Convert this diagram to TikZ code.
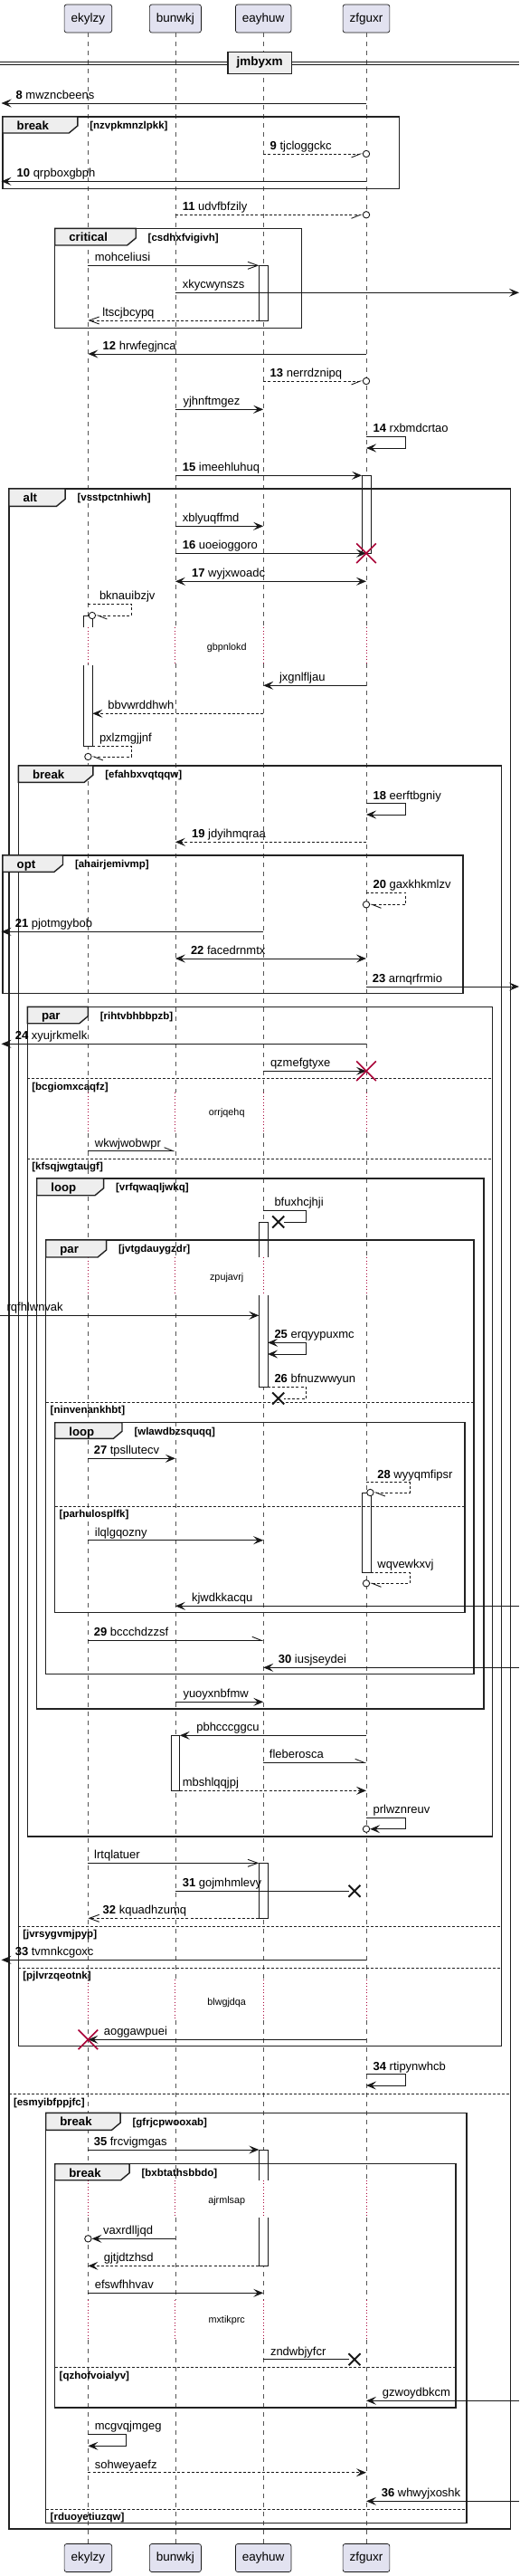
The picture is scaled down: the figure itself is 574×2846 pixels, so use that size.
\documentclass[tikz,border=0pt]{standalone}
\usepackage{fontspec}
\setmainfont{Liberation Sans}
\usetikzlibrary{arrows.meta,shapes.misc}
\definecolor{partc}{HTML}{E2E2F0}
\definecolor{edgec}{HTML}{181818}
\definecolor{lifec}{HTML}{555555}
\definecolor{redc}{HTML}{A80036}
\definecolor{tabc}{HTML}{EEEEEE}
\definecolor{framec}{HTML}{222222}
\newcommand\fmsg{\fontsize{13}{15}\selectfont}
\newcommand\fpart{\fontsize{13.5}{16}\selectfont}
\newcommand\fguard{\bfseries\fontsize{11.5}{14}\selectfont}
\newcommand\ftab{\bfseries\fontsize{13.2}{16}\selectfont}
\newcommand\fdelay{\fontsize{10.8}{13}\selectfont}
\newcommand\actC[3]{\filldraw[actb] ({#1-4.9},#2) rectangle ({#1+4.9},#3);}
\newcommand\actOB[3]{\fill[white] ({#1-4.9},#2) rectangle ({#1+4.9},#3);
  \draw[actl] ({#1-4.9},#3) -- ({#1-4.9},#2) -- ({#1+4.9},#2) -- ({#1+4.9},#3);}
\newcommand\actOT[3]{\fill[white] ({#1-4.9},#2) rectangle ({#1+4.9},#3);
  \draw[actl] ({#1-4.9},#2) -- ({#1-4.9},#3) -- ({#1+4.9},#3) -- ({#1+4.9},#2);}
\newcommand\myframe[9]{%
  \draw[frl] (#1,#2) rectangle (#3,#4);
  \filldraw[tabs] (#1,#2) -- (#5,#2) -- (#5,{#6-8}) -- ({#5-9.6},#6) -- (#1,#6) -- cycle;
  \node[tlbl] (#7a) at ({#1+15.5},{#2+14.3}) {#8};
  \node[glbl] (#7b) at ({#5+13.3},{#2+13.7}) {#9};}
\newcommand\myelse[5]{%
  \draw[elsel] (#1,#3) -- (#2,#3);
  \node[glbl] (#4) at ({#1+4.8},{#3+12.6}) {#5};}
\begin{document}
\begin{tikzpicture}[x=1pt,y=-1pt,
  pbox/.style={draw=edgec, fill=partc, rounded corners=2.5pt, line width=0.7pt, minimum height=31pt, inner xsep=7.5pt, inner ysep=0pt, text height=10pt, text depth=3pt, font=\fpart},
  life/.style={draw=lifec, line width=0.7pt, dash pattern=on 5pt off 5pt},
  dly/.style={draw=redc, line width=0.9pt, dash pattern=on 1pt off 2.5pt},
  actb/.style={draw=edgec, fill=white, line width=0.8pt},
  actl/.style={draw=edgec, line width=0.8pt},
  frl/.style={draw=framec, line width=1.4pt},
  tabs/.style={draw=framec, fill=tabc, line width=1.4pt},
  elsel/.style={draw=framec, line width=0.8pt, dash pattern=on 3pt off 2pt},
  lbl/.style={anchor=base west, inner sep=0pt, font=\fmsg},
  glbl/.style={anchor=base west, inner sep=0pt, font=\fguard},
  tlbl/.style={anchor=base west, inner sep=0pt, font=\ftab},
  dlbl/.style={anchor=base, inner sep=0pt, font=\fdelay},
  pline/.style={draw=edgec, line width=0.9pt},
  dsh/.style={dash pattern=on 3pt off 2.2pt},
  msg/.style={pline, -{Stealth[length=11pt,width=9pt,inset=4.5pt]}},
  retm/.style={msg, dsh},
  bidir/.style={pline, {Stealth[length=11pt,width=9pt,inset=4.5pt]}-{Stealth[length=11pt,width=9pt,inset=4.5pt]}},
  omsg/.style={pline, -{Straight Barb[length=11pt,width=8pt]}},
  oret/.style={omsg, dsh},
  hsolid/.style={pline, -{Straight Barb[harpoon,length=10pt,width=8pt]}},
  hdash/.style={hsolid, dsh},
  hdashs/.style={pline, dsh, -{Straight Barb[harpoon,swap,length=10pt,width=8pt]}},
  cend/.style={circle, draw=edgec, fill=white, line width=0.9pt, minimum size=7.4pt, inner sep=0pt},
  xmark/.style={cross out, draw=edgec, line width=2pt, minimum size=11pt, inner sep=0pt},
  redx/.style={cross out, draw=redc, line width=1.6pt, minimum size=20pt, inner sep=0pt}
]
\useasboundingbox (0,0) rectangle (574,2846);
% participants
\node[pbox] (pE) at (97.4,20.5) {ekylzy};
\node[pbox] (pB) at (193.9,20.5) {bunwkj};
\node[pbox] (pA) at (291.2,20.5) {eayhuw};
\node[pbox] (pZ) at (405,20.5) {zfguxr};
\node[pbox] (qE) at (97.4,2826) {ekylzy};
\node[pbox] (qB) at (193.9,2826) {bunwkj};
\node[pbox] (qA) at (291.2,2826) {eayhuw};
\node[pbox] (qZ) at (405,2826) {zfguxr};
\coordinate (Lft) at (1.5,0);
\coordinate (Lft0) at (0,0);
\coordinate (Rgt) at (574,0);
% lifelines
\foreach \p in {pE,pB,pA,pZ}{
  \foreach \a/\b in {36/693.3,733.3/1207,1252/1389,1430.7/2187,2232/2408.7,2450/2541,2585/2810.3}
    \draw[life] (\p |- 0,\a) -- (\p |- 0,\b);
  \foreach \a/\b in {693.3/733.3,1207/1252,1389/1430.7,2187/2232,2408.7/2450,2541/2585}
    \draw[dly] (\p |- 0,\a) -- (\p |- 0,\b);
}
% activations
\actC{291.2}{293.3}{354}
\actC{405}{525.3}{611.3}
\actOB{97.4}{680}{693.3}
\actOT{97.4}{735}{824}
\actOB{291.2}{1350}{1389}
\actOT{291.2}{1430.7}{1532.7}
\actC{405}{1649}{1737.3}
\actC{193.9}{1917.3}{1978.3}
\actC{291.2}{2058.3}{2119.3}
\actOB{291.2}{2375}{2408.7}
\actOT{291.2}{2450}{2503.3}
% separator
\draw[pline, line width=1pt] (0,68.3) -- (574,68.3);
\draw[pline, line width=1pt] (0,71.7) -- (574,71.7);
\node[draw=framec, fill=tabc, line width=1.4pt, minimum width=70.6pt, minimum height=24.4pt, inner sep=0pt, font=\bfseries\fontsize{13.5}{16}\selectfont] (sep) at (287.2,69.5) {jmbyxm};
% frames
\myframe{3}{129}{441.2}{208.7}{85.8}{147}{f1}{break}{[nzvpkmnzlpkk]}
\myframe{60.7}{252.3}{333.2}{362.3}{150.2}{271}{f2}{critical}{[csdhxfvigivh]}
\myframe{10}{540}{564.7}{2794}{72.1}{559.3}{f3}{alt}{[vsstpctnhiwh]}
\myframe{20.3}{846}{554.7}{2260.7}{102.8}{864.3}{f4}{break}{[efahbxvqtqqw]}
\myframe{3}{945}{511.8}{1097.7}{69.5}{963.3}{f5}{opt}{[ahairjemivmp]}
\myframe{30.3}{1112.3}{544.4}{2029}{97.3}{1130.7}{f6}{par}{[rihtvbhbbpzb]}
\myframe{40.7}{1302}{534.8}{1888}{114.6}{1320.7}{f7}{loop}{[vrfqwaqljwkq]}
\myframe{50.7}{1370}{524}{1849.7}{117.6}{1389}{f8}{par}{[jvtgdauygzdr]}
\myframe{60.7}{1571.7}{514.1}{1781.7}{135}{1589.3}{f9}{loop}{[wlawdbzsquqq]}
\myframe{50.7}{2334.3}{515.9}{2787.3}{133.1}{2353.3}{f10}{break}{[gfrjcpwooxab]}
\myframe{60.7}{2390.7}{504.1}{2660}{143.1}{2408.7}{f11}{break}{[bxbtathsbbdo]}
\myelse{30.3}{544.4}{1191.7}{e1}{[bcgiomxcaqfz]}
\myelse{30.3}{544.4}{1280.3}{e2}{[kfsqjwgtaugf]}
\myelse{50.7}{524}{1549.3}{e3}{[ninvenankhbt]}
\myelse{60.7}{514.1}{1664.3}{e4}{[parhulosplfk]}
\myelse{20.3}{554.7}{2128.3}{e5}{[jvrsygvmjpyp]}
\myelse{20.3}{554.7}{2174.3}{e6}{[pjlvrzqeotnk]}
\myelse{10}{564.7}{2313.7}{e7}{[esmyibfppjfc]}
\myelse{60.7}{504.1}{2615.7}{e8}{[qzhofvoialyv]}
\myelse{50.7}{515.9}{2772.3}{e9}{[rduoyetiuzqw]}
% delays
\node[dlbl] (d1) at (250.7,718.5) {gbpnlokd};
\node[dlbl] (d2) at (250.7,1232.8) {orrjqehq};
\node[dlbl] (d3) at (250.7,1414.5) {zpujavrj};
\node[dlbl] (d4) at (250.7,2215.2) {blwgjdqa};
\node[dlbl] (d5) at (250.7,2434.2) {ajrmlsap};
\node[dlbl] (d6) at (250.7,2566.8) {mxtikprc};
% messages
\draw[msg] (pZ |- 0,114) -- (Lft |- 0,114);
\node[lbl] (t8) at (17.4,109.3) {\textbf{8} mwzncbeens};
\node[cend] (c9) at (pZ |- 0,170) {};
\draw[hdashs] (pA |- 0,170) -- (c9);
\node[lbl] (t9) at (298.5,165.3) {\textbf{9} tjcloggckc};
\draw[msg] (pZ |- 0,200.3) -- (Lft |- 0,200.3);
\node[lbl] (t10) at (18.5,195.6) {\textbf{10} qrpboxgbph};
\node[cend] (c11) at (pZ |- 0,237.3) {};
\draw[hdashs] (pB |- 0,237.3) -- (c11);
\node[lbl] (t11) at (201.6,232.6) {\textbf{11} udvfbfzily};
\draw[omsg, shorten >=4.9pt] (pE |- 0,293.3) -- (pA |- 0,293.3);
\node[lbl] (ta1) at (104.7,288.6) {mohceliusi};
\draw[msg] (pB |- 0,323.3) -- (Rgt |- 0,323.3);
\node[lbl] (ta2) at (201.6,318.6) {xkycwynszs};
\draw[oret, shorten <=4.9pt] (pA |- 0,354) -- (pE |- 0,354);
\node[lbl] (ta3) at (113.2,349.3) {ltscjbcypq};
\draw[msg] (pZ |- 0,391) -- (pE |- 0,391);
\node[lbl] (t12) at (113.5,386.3) {\textbf{12} hrwfegjnca};
\node[cend] (c13) at (pZ |- 0,421) {};
\draw[hdashs] (pA |- 0,421) -- (c13);
\node[lbl] (t13) at (298.5,416.3) {\textbf{13} nerrdznipq};
\draw[msg] (pB |- 0,452.3) -- (pA |- 0,452.3);
\node[lbl] (ta4) at (202.3,447.6) {yjhnftmgez};
\draw[msg] (pZ |- 0,482.3) -- (448.2,482.3) -- (448.2,495) -- (pZ |- 0,495);
\node[lbl] (t14) at (412.4,477.6) {\textbf{14} rxbmdcrtao};
\draw[msg, shorten >=4.9pt] (pB |- 0,525.3) -- (pZ |- 0,525.3);
\node[lbl] (t15) at (201.6,520.6) {\textbf{15} imeehluhuq};
\draw[msg] (pB |- 0,581.3) -- (pA |- 0,581.3);
\node[lbl] (ta5) at (201.6,576.6) {xblyuqffmd};
\draw[msg] (pB |- 0,611.3) -- (pZ |- 0,611.3);
\node[redx] (rx16) at (pZ |- 0,611.3) {};
\node[lbl] (t16) at (201.6,606.6) {\textbf{16} uoeioggoro};
\draw[bidir] (pB |- 0,642.3) -- (pZ |- 0,642.3);
\node[lbl] (t17) at (211.9,637.6) {\textbf{17} wyjxwoadc};
\node[cend] (cbk) at (101.9,680) {};
\draw[hdash] (pE |- 0,667) -- (145,667) -- (145,680) -- (cbk);
\node[lbl] (ta6) at (109.8,662.3) {bknauibzjv};
\draw[msg] (pZ |- 0,757.3) -- (pA |- 0,757.3);
\node[lbl] (ta7) at (308.8,752.6) {jxgnlfljau};
\draw[retm, shorten >=4.9pt] (pA |- 0,788.3) -- (pE |- 0,788.3);
\node[lbl] (ta8) at (119.1,783.6) {bbvwrddhwh};
\node[cend] (cpx) at (pE |- 0,836) {};
\draw[hdash, shorten <=4.9pt] (pE |- 0,824) -- (145,824) -- (145,836) -- (cpx);
\node[lbl] (ta9) at (109.8,819.3) {pxlzmgjjnf};
\draw[msg] (pZ |- 0,887.7) -- (448.2,887.7) -- (448.2,900) -- (pZ |- 0,900);
\node[lbl] (t18) at (412.4,883) {\textbf{18} eerftbgniy};
\draw[retm] (pZ |- 0,930.3) -- (pB |- 0,930.3);
\node[lbl] (t19) at (211.9,925.6) {\textbf{19} jdyihmqraa};
\node[cend] (c20) at (pZ |- 0,999.3) {};
\draw[hdash] (pZ |- 0,986) -- (448.2,986) -- (448.2,999.3) -- (c20);
\node[lbl] (t20) at (412.4,981.3) {\textbf{20} gaxkhkmlzv};
\draw[msg] (pA |- 0,1029.3) -- (Lft |- 0,1029.3);
\node[lbl] (t21) at (16.6,1024.6) {\textbf{21} pjotmgybob};
\draw[bidir] (pB |- 0,1059) -- (pZ |- 0,1059);
\node[lbl] (t22) at (210.8,1054.3) {\textbf{22} facedrnmtx};
\draw[msg] (pZ |- 0,1090) -- (Rgt |- 0,1090);
\node[lbl] (t23) at (411.6,1085.3) {\textbf{23} arnqrfrmio};
\draw[msg] (pZ |- 0,1153.3) -- (Lft |- 0,1153.3);
\node[lbl] (t24) at (16.6,1148.6) {\textbf{24} xyujrkmelk};
\draw[msg] (pA |- 0,1183.3) -- (pZ |- 0,1183.3);
\node[redx] (rx24) at (pZ |- 0,1183.3) {};
\node[lbl] (tb1) at (298.8,1178.6) {qzmefgtyxe};
\draw[hsolid] (pE |- 0,1271.7) -- (pB |- 0,1271.7);
\node[lbl] (tb2) at (104.7,1267) {wkwjwobwpr};
\node[xmark] (xb) at (307.7,1350) {};
\draw[pline] (pA |- 0,1337.3) -- (338.8,1337.3) -- (338.8,1350) -- (xb);
\node[lbl] (tb3) at (303.3,1332.6) {bfuxhcjhji};
\draw[msg, shorten >=4.9pt] (Lft0 |- 0,1453.3) -- (pA |- 0,1453.3);
\node[lbl] (tb4) at (7.4,1448.6) {rqfhlwnvak};
\draw[bidir, shorten <=4.9pt, shorten >=4.9pt] (pA |- 0,1483.3) -- (338.8,1483.3) -- (338.8,1496) -- (pA |- 0,1496);
\node[lbl] (t25) at (303.3,1478.6) {\textbf{25} erqyypuxmc};
\node[xmark] (x26) at (307.7,1545) {};
\draw[pline, dsh, shorten <=4.9pt] (pA |- 0,1532.7) -- (338.8,1532.7) -- (338.8,1545) -- (x26);
\node[lbl] (t26) at (303.3,1527.5) {\textbf{26} bfnuzwwyun};
\draw[msg] (pE |- 0,1611.3) -- (pB |- 0,1611.3);
\node[lbl] (t27) at (103.6,1606.6) {\textbf{27} tpsllutecv};
\node[cend] (c28) at (409.4,1649) {};
\draw[hdash] (pZ |- 0,1637.7) -- (453,1637.7) -- (453,1649) -- (c28);
\node[lbl] (t28) at (417.2,1633) {\textbf{28} wyyqmfipsr};
\draw[msg] (pE |- 0,1701.7) -- (pA |- 0,1701.7);
\node[lbl] (tb5) at (104.7,1697) {ilqlgqozny};
\node[cend] (cwq) at (pZ |- 0,1749.3) {};
\draw[hdash, shorten <=4.9pt] (pZ |- 0,1737.3) -- (453,1737.3) -- (453,1749.3) -- (cwq);
\node[lbl] (tb6) at (417.2,1732.6) {wqvewkxvj};
\draw[msg] (Rgt |- 0,1774.3) -- (pB |- 0,1774.3);
\node[lbl] (tb7) at (211.9,1769.6) {kjwdkkacqu};
\draw[hsolid] (pE |- 0,1812.3) -- (pA |- 0,1812.3);
\node[lbl] (t29) at (103.6,1807.6) {\textbf{29} bccchdzzsf};
\draw[msg] (Rgt |- 0,1842.3) -- (pA |- 0,1842.3);
\node[lbl] (t30) at (307.7,1837.6) {\textbf{30} iusjseydei};
\draw[msg] (pB |- 0,1880.3) -- (pA |- 0,1880.3);
\node[lbl] (tb8) at (202.3,1875.6) {yuoyxnbfmw};
\draw[msg, shorten >=4.9pt] (pZ |- 0,1917.3) -- (pB |- 0,1917.3);
\node[lbl] (tb9) at (217.1,1912.6) {pbhcccggcu};
\draw[hsolid] (pA |- 0,1947.3) -- (pZ |- 0,1947.3);
\node[lbl] (tc1) at (297.7,1942.6) {fleberosca};
\draw[retm, shorten <=4.9pt] (pB |- 0,1978.3) -- (pZ |- 0,1978.3);
\node[lbl] (tc2) at (201.6,1973.6) {mbshlqqjpj};
\node[cend] (cpr) at (pZ |- 0,2020.7) {};
\draw[msg] (pZ |- 0,2008.3) -- (448.2,2008.3) -- (448.2,2020.7) -- (cpr);
\node[lbl] (tc3) at (412.4,2003.6) {prlwznreuv};
\draw[omsg, shorten >=4.9pt] (pE |- 0,2058.3) -- (pA |- 0,2058.3);
\node[lbl] (tc4) at (104,2053.6) {lrtqlatuer};
\node[xmark] (x31) at (392,2089.3) {};
\draw[pline] (pB |- 0,2089.3) -- (x31);
\node[lbl] (t31) at (201.6,2084.6) {\textbf{31} gojmhmlevy};
\draw[oret, shorten <=4.9pt] (pA |- 0,2119.3) -- (pE |- 0,2119.3);
\node[lbl] (t32) at (113.5,2114.6) {\textbf{32} kquadhzumq};
\draw[msg] (pZ |- 0,2165.3) -- (Lft |- 0,2165.3);
\node[lbl] (t33) at (16.6,2160.6) {\textbf{33} tvmnkcgoxc};
\draw[msg] (pZ |- 0,2253.3) -- (pE |- 0,2253.3);
\node[redx] (rx53) at (pE |- 0,2253.3) {};
\node[lbl] (tc5) at (114.6,2248.6) {aoggawpuei};
\draw[msg] (pZ |- 0,2291.7) -- (448.2,2291.7) -- (448.2,2304) -- (pZ |- 0,2304);
\node[lbl] (t34) at (412.4,2287) {\textbf{34} rtipynwhcb};
\draw[msg, shorten >=4.9pt] (pE |- 0,2375) -- (pA |- 0,2375);
\node[lbl] (t35) at (103.6,2370.3) {\textbf{35} frcvigmgas};
\node[cend] (cva) at (pE |- 0,2473.3) {};
\draw[msg] (pB |- 0,2473.3) -- (cva);
\node[lbl] (tc6) at (113.9,2468.6) {vaxrdlljqd};
\draw[retm, shorten <=4.9pt] (pA |- 0,2503.3) -- (pE |- 0,2503.3);
\node[lbl] (tc7) at (114.6,2498.6) {gjtjdtzhsd};
\draw[msg] (pE |- 0,2533.3) -- (pA |- 0,2533.3);
\node[lbl] (tc8) at (104.7,2528.6) {efswfhhvav};
\node[xmark] (xz) at (392,2606.7) {};
\draw[pline] (pA |- 0,2606.7) -- (xz);
\node[lbl] (tc9) at (298.8,2602) {zndwbjyfcr};
\draw[msg] (Rgt |- 0,2652.3) -- (pZ |- 0,2652.3);
\node[lbl] (td1) at (422.7,2647.6) {gzwoydbkcm};
\draw[msg] (pE |- 0,2689.3) -- (139.8,2689.3) -- (139.8,2702.3) -- (pE |- 0,2702.3);
\node[lbl] (td2) at (104.7,2684.6) {mcgvqjmgeg};
\draw[retm] (pE |- 0,2731.7) -- (pZ |- 0,2731.7);
\node[lbl] (td3) at (104.7,2727) {sohweyaefz};
\draw[msg] (Rgt |- 0,2763.3) -- (pZ |- 0,2763.3);
\node[lbl] (t36) at (421.6,2758.6) {\textbf{36} whwyjxoshk};
\end{tikzpicture}
\end{document}
